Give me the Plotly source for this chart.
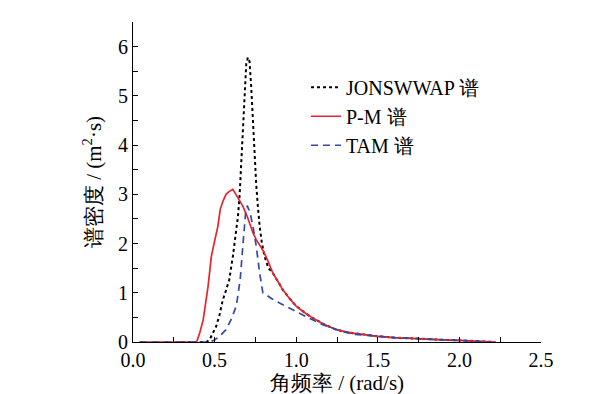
import plotly.graph_objects as go

# JONSWAP spectrum
jon_x = [0.30, 0.45, 0.47, 0.49, 0.51, 0.53, 0.55, 0.57, 0.59, 0.612, 0.63, 0.643, 0.653, 0.663,
         0.673, 0.684, 0.694, 0.704, 0.714, 0.724, 0.734, 0.745, 0.755, 0.765, 0.776, 0.79,
         0.806, 0.83, 0.857, 0.89, 0.918, 0.96, 1.0, 1.05, 1.10, 1.17, 1.245, 1.30, 1.347,
         1.42, 1.5, 1.6, 1.755, 1.9, 2.0, 2.1, 2.22]
jon_y = [0, 0, 0.05, 0.18, 0.32, 0.55, 0.85, 1.05, 1.27, 1.74, 2.2, 2.55, 2.96, 3.57,
         4.45, 5.1, 5.65, 5.78, 5.70, 5.2, 4.45, 3.71, 3.2, 2.76, 2.35, 2.0,
         1.74, 1.5, 1.40, 1.22, 1.06, 0.88, 0.73, 0.60, 0.49, 0.36, 0.25, 0.21, 0.18,
         0.15, 0.115, 0.09, 0.06, 0.045, 0.034, 0.02, 0]

# P-M spectrum
pm_x = [0.04, 0.2, 0.39, 0.41, 0.43, 0.46, 0.48, 0.50, 0.52, 0.535, 0.55, 0.57, 0.59, 0.612,
        0.64, 0.673, 0.70, 0.714, 0.735, 0.755, 0.78, 0.80, 0.83, 0.857, 0.89, 0.918, 0.96,
        1.0, 1.05, 1.10, 1.17, 1.245, 1.30, 1.347, 1.42, 1.5, 1.6, 1.755, 1.9, 2.0, 2.1, 2.22]
pm_y = [0, 0, 0, 0.2, 0.45, 1.13, 1.74, 2.05, 2.35, 2.7, 2.85, 3.0, 3.06, 3.10,
        2.95, 2.76, 2.55, 2.42, 2.22, 2.08, 1.95, 1.84, 1.62, 1.40, 1.22, 1.06, 0.88,
        0.73, 0.60, 0.49, 0.36, 0.25, 0.21, 0.18, 0.15, 0.115, 0.09, 0.06, 0.045, 0.034, 0.02, 0]

# TAM spectrum
tam_x = [0.04, 0.2, 0.47, 0.50, 0.53, 0.57, 0.60, 0.633, 0.657, 0.673, 0.69, 0.70, 0.718,
         0.735, 0.755, 0.776, 0.796, 0.816, 0.85, 0.898, 0.95, 1.0, 1.05, 1.10, 1.17, 1.245,
         1.30, 1.347, 1.42, 1.5, 1.6, 1.755, 1.9, 2.0, 2.1, 2.19]
tam_y = [0, 0, 0, 0.04, 0.115, 0.25, 0.45, 0.73, 1.27, 1.95, 2.62, 2.77, 2.62,
         2.35, 1.95, 1.40, 1.0, 0.96, 0.88, 0.79, 0.70, 0.62, 0.53, 0.45, 0.34, 0.25,
         0.20, 0.16, 0.135, 0.115, 0.09, 0.06, 0.045, 0.03, 0.015, 0]

names = ["JONSWWAP 谱", "P-M 谱", "TAM 谱"]

FONT = "'Liberation Serif', 'Times New Roman', serif"

fig = go.Figure()
fig.add_trace(go.Scatter(x=jon_x, y=jon_y, mode="lines", name=names[0],
                         line=dict(color="black", width=2, dash="dot")))
fig.add_trace(go.Scatter(x=pm_x, y=pm_y, mode="lines", name=names[1],
                         line=dict(color="#e8242c", width=1.7)))
fig.add_trace(go.Scatter(x=tam_x, y=tam_y, mode="lines", name=names[2],
                         line=dict(color="#3848a8", width=1.7, dash="7px,5px")))

axis_common = dict(showgrid=False, zeroline=False, showline=True, linecolor="black",
                   linewidth=1, ticks="inside", ticklen=5, tickcolor="black",
                   automargin=False,
                   tickfont=dict(family=FONT, size=20, color="black"))

fig.update_layout(
    width=602, height=394,
    margin=dict(l=125, r=69, t=14, b=60),
    paper_bgcolor="white", plot_bgcolor="white",
    font=dict(family=FONT, size=20, color="black"),
    showlegend=True,
    legend=dict(x=0.424, y=0.857, xanchor="left", yanchor="top",
                bgcolor="rgba(0,0,0,0)", borderwidth=0,
                font=dict(family=FONT, size=20, color="black"),
                tracegroupgap=0, itemwidth=30),
    xaxis=dict(range=[0, 2.5], dtick=0.5, tick0=0, tickformat=".1f",
               minor=dict(dtick=0.25, ticks="inside", ticklen=5, tickcolor="black"),
               title=dict(text="角频率 / (rad/s)", standoff=1,
                          font=dict(family=FONT, size=21, color="black")),
               **axis_common),
    yaxis=dict(range=[0, 6.5], dtick=1, tick0=0,
               minor=dict(dtick=0.5, ticks="inside", ticklen=5, tickcolor="black"),
               title=dict(text="谱密度 / (m<sup>2</sup>·s)", standoff=10,
                          font=dict(family=FONT, size=21, color="black")),
               **axis_common),
)

fig.write_html("out.html")
